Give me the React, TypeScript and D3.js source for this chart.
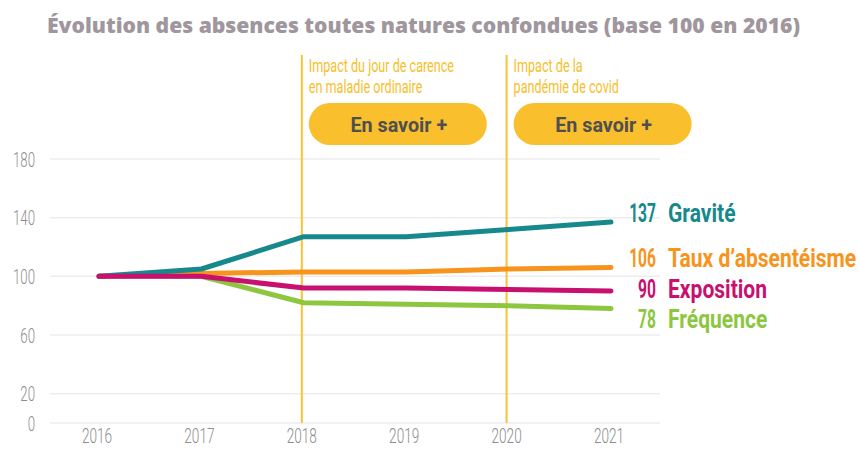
import React, { useEffect, useRef } from "react";
import * as d3 from "d3";

// values (base 100 in 2016)
const years = [2016, 2017, 2018, 2019, 2020, 2021];
const gravite = [100, 105, 127, 127, 132, 137];
const taux = [100, 102, 103, 103, 105, 106];
const exposition = [100, 100, 92, 92, 91, 90];
const frequence = [100, 100, 82, 81, 80, 78];
const yTicks = [0, 20, 60, 100, 140, 180];

const seriesNames = ["Fréquence", "Taux d’absentéisme", "Gravité", "Exposition"];
const seriesValues = [frequence, taux, gravite, exposition];
const seriesColors = ["#8dc63f", "#f7941d", "#17898d", "#c8106e"];

const markers = [
  { year: 2018, lines: ["Impact du jour de carence", "en maladie ordinaire"] },
  { year: 2020, lines: ["Impact de la", "pandémie de covid"] },
];

const font = "Roboto, 'DejaVu Sans', sans-serif";

// the reference uses a condensed face, so squeeze Roboto horizontally
const squeezed = (parent, x, y, txt, o) => {
  const g = parent
    .append("g")
    .attr("transform", `translate(${x},${y}) scale(${o.sx},1)`);
  g.append("text")
    .attr("text-anchor", o.anchor || "start")
    .attr("font-family", font)
    .attr("font-weight", o.weight || 400)
    .attr("font-size", o.size)
    .attr("fill", o.fill)
    .text(txt);
  return g;
};

const App = () => {
  const svgRef = useRef(null);

  useEffect(() => {
    const svg = d3.select(svgRef.current);
    svg.selectAll("*").remove();

    const width = 859;
    const height = 450;

    const x = d3.scaleLinear().domain([2016, 2021]).range([99, 611]);
    const y = d3.scaleLinear().domain([0, 180]).range([423, 159]);

    svg.attr("width", width).attr("height", height);

    // title
    svg
      .append("text")
      .attr("x", 47)
      .attr("y", 33)
      .attr("font-family", "'Open Sans', sans-serif")
      .attr("font-weight", 800)
      .attr("font-size", 21)
      .attr("fill", "#a0969d")
      .attr("textLength", 753)
      .attr("lengthAdjust", "spacingAndGlyphs")
      .text("Évolution des absences toutes natures confondues (base 100 en 2016)");

    // grid
    svg
      .append("g")
      .selectAll("line")
      .data(yTicks)
      .join("line")
      .attr("x1", 50)
      .attr("x2", 660)
      .attr("y1", (d) => y(d))
      .attr("y2", (d) => y(d))
      .attr("stroke", "#ededed")
      .attr("stroke-width", 1.5);

    // y axis labels
    const yl = svg.append("g");
    yTicks.forEach((d) =>
      squeezed(yl, 35, y(d) + 7.5, d, {
        sx: 0.63,
        size: 21,
        weight: 300,
        fill: "#8c8c8c",
        anchor: "end",
      })
    );

    // x axis labels
    const xl = svg.append("g");
    years.forEach((d) =>
      squeezed(xl, x(d) - 2, 443, d, {
        sx: 0.68,
        size: 20,
        weight: 300,
        fill: "#8c8c8c",
        anchor: "middle",
      })
    );

    // vertical markers + notes + buttons
    const m = svg.append("g").selectAll("g").data(markers).join("g");
    m.append("line")
      .attr("x1", (d) => x(d.year) - 2)
      .attr("x2", (d) => x(d.year) - 2)
      .attr("y1", 55)
      .attr("y2", y(0))
      .attr("stroke", "#f9c234")
      .attr("stroke-width", 2);
    m.append("rect")
      .attr("x", (d) => x(d.year) + 5)
      .attr("y", 103)
      .attr("width", 178)
      .attr("height", 42)
      .attr("rx", 21)
      .attr("fill", "#f9bf2c");
    m.each(function (d) {
      const g = d3.select(this);
      d.lines.forEach((t, i) =>
        squeezed(g, x(d.year) + 5, 72 + i * 21, t, {
          sx: 0.7,
          size: 18,
          weight: 400,
          fill: "#f6c02c",
        })
      );
      squeezed(g, x(d.year) + 95, 131.5, "En savoir +", {
        sx: 0.94,
        size: 21,
        weight: 700,
        fill: "#4f4f51",
        anchor: "middle",
      });
    });

    // lines
    const line = d3
      .line()
      .x((d, i) => x(years[i]))
      .y((d) => y(d));

    svg
      .append("g")
      .selectAll("path")
      .data(seriesValues)
      .join("path")
      .attr("fill", "none")
      .attr("stroke", (d, i) => seriesColors[i])
      .attr("stroke-width", 5)
      .attr("stroke-linecap", "round")
      .attr("stroke-linejoin", "round")
      .attr("d", (d) => line(d));

    // end labels
    const labelY = [328, 267, 222, 298];
    const lab = svg.append("g");
    seriesValues.forEach((d, i) => {
      squeezed(lab, 656, labelY[i], d[d.length - 1], {
        sx: 0.6,
        size: 26,
        weight: 700,
        fill: seriesColors[i],
        anchor: "end",
      });
      squeezed(lab, 668, labelY[i], seriesNames[i], {
        sx: 0.81,
        size: 26,
        weight: 700,
        fill: seriesColors[i],
      });
    });
  }, []);

  return (
    <svg
      ref={svgRef}
      style={{ position: "absolute", left: 0, top: 0, background: "#fff" }}
    ></svg>
  );
};

export default App;
